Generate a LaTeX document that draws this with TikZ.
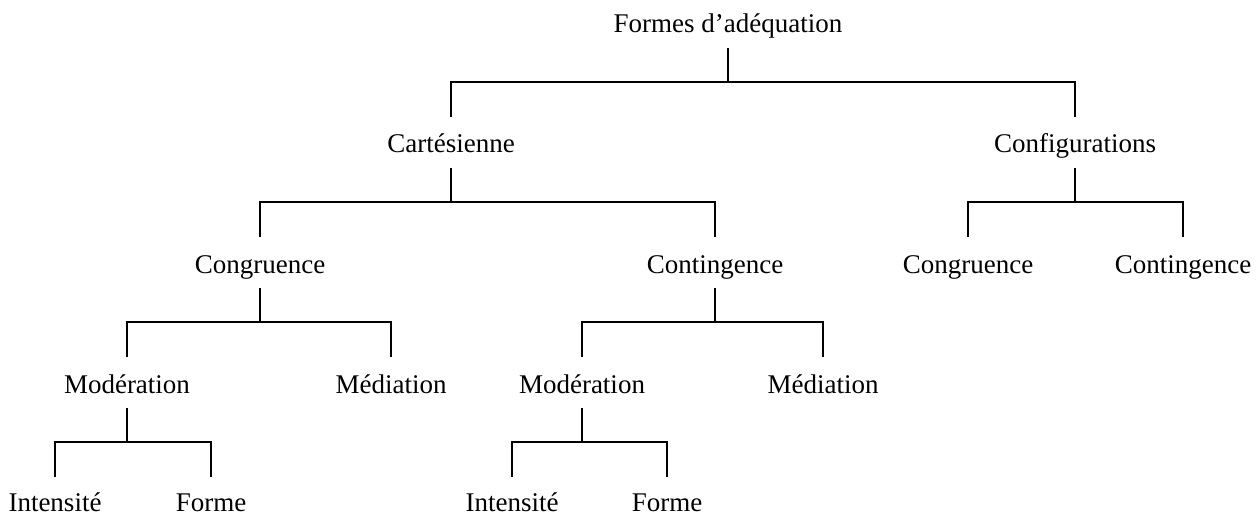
\documentclass[tikz,border=0pt]{standalone}
\usepackage{fontspec}
\setmainfont{Liberation Serif}
\begin{document}
\begin{tikzpicture}[x=1pt,y=-1pt,
  lbl/.style={anchor=base,inner sep=0pt,font=\fontsize{27}{30}\selectfont},
  stem/.style={line width=2.6pt},
  bar/.style={line width=1.7pt}]
\useasboundingbox[fill=white] (0,0) rectangle (1260,516);
% nodes
\node[lbl] (root) at (728,33) {Formes d’adéquation};
\node[lbl] (cart) at (451,153) {Cartésienne};
\node[lbl] (conf) at (1075,153) {Configurations};
\node[lbl] (cgA) at (260,273) {Congruence};
\node[lbl] (ctA) at (715,273) {Contingence};
\node[lbl] (cgB) at (968,273) {Congruence};
\node[lbl] (ctB) at (1183,273) {Contingence};
\node[lbl] (modA) at (127,393) {Modération};
\node[lbl] (medA) at (391,393) {Médiation};
\node[lbl] (modB) at (582,393) {Modération};
\node[lbl] (medB) at (823,393) {Médiation};
\node[lbl] (intA) at (55,511) {Intensité};
\node[lbl] (forA) at (211,511) {Forme};
\node[lbl] (intB) at (512,511) {Intensité};
\node[lbl] (forB) at (667,511) {Forme};
% junctions
\coordinate (jroot) at (728,82);
\coordinate (jcart) at (451,202);
\coordinate (jconf) at (1075,202);
\coordinate (jcgA) at (260,322);
\coordinate (jctA) at (715,322);
\coordinate (jmodA) at (127,442);
\coordinate (jmodB) at (582,442);
% connectors
\foreach \p/\j/\a/\b in {root/jroot/cart/conf, cart/jcart/cgA/ctA, conf/jconf/cgB/ctB,
  cgA/jcgA/modA/medA, ctA/jctA/modB/medB}{
  \draw[stem] ([yshift=-15pt]\p.base) -- (\j);
  \draw[bar] ([yshift=36pt]\a.base) |- (\j) -| ([yshift=36pt]\b.base);
}
\foreach \p/\j/\a/\b in {modA/jmodA/intA/forA, modB/jmodB/intB/forB}{
  \draw[stem] ([yshift=-15pt]\p.base) -- (\j);
  \draw[bar] ([yshift=34pt]\a.base) |- (\j) -| ([yshift=34pt]\b.base);
}
\end{tikzpicture}
\end{document}
